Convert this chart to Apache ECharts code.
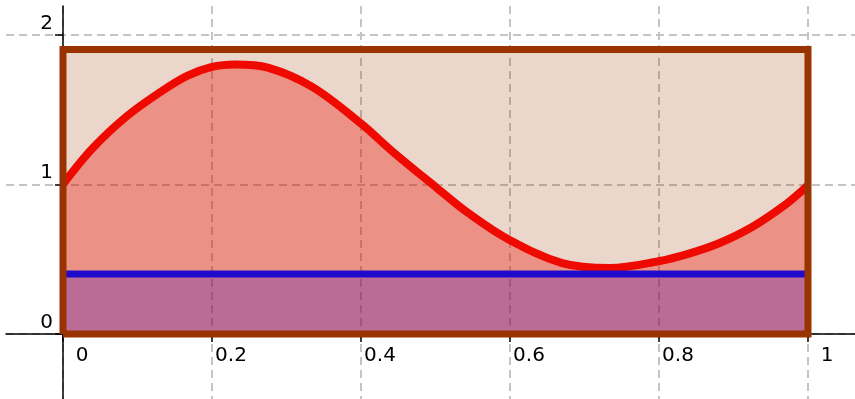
<!DOCTYPE html>
<html>
<head>
<meta charset="utf-8">
<script src="https://cdn.jsdelivr.net/npm/echarts@6/dist/echarts.min.js"></script>
<style>
html,body{margin:0;padding:0;background:#ffffff;}
#chart{width:855px;height:399px;}
</style>
</head>
<body>
<div id="chart"></div>
<script>
// ---- data ----
const xTickValues = [0, 0.2, 0.4, 0.6, 0.8, 1];
const yTickValues = [0, 1, 2];
const curveX = [0, 0.040, 0.086, 0.130, 0.166, 0.200, 0.231, 0.275, 0.334, 0.399, 0.443, 0.502, 0.544, 0.597, 0.670, 0.734, 0.801, 0.838, 0.879, 0.925, 0.969, 0.993, 1.000];
const curveY = [1.00, 1.242, 1.456, 1.614, 1.723, 1.784, 1.800, 1.779, 1.652, 1.410, 1.216, 0.975, 0.808, 0.635, 0.474, 0.441, 0.488, 0.534, 0.603, 0.715, 0.862, 0.962, 0.995];
const levelX = [0, 1];
const levelY = [0.4, 0.4];
const rectX = [0, 1];
const rectY = [0, 1.9];

// ---- build ----
const curveData = curveX.map((x, i) => [x, curveY[i]]);
const levelData = levelX.map((x, i) => [x, levelY[i]]);
const rectTop = [[rectX[0], rectY[1]], [rectX[1], rectY[1]]];
const rectOutline = [
  [rectX[0], rectY[0]], [rectX[0], rectY[1]], [rectX[1], rectY[1]],
  [rectX[1], rectY[0]], [rectX[0], rectY[0]]
];

const FONT = 'DejaVu Sans';
const X_MIN = -0.0765, X_MAX = 1.0631, Y_MIN = -0.4342, Y_MAX = 2.191;
const gridLine = {show: true, lineStyle: {color: '#c4c4c4', width: 2, type: [8, 5]}};
const axisBlack = {color: '#000000', width: 1.5};

const chart = echarts.init(document.getElementById('chart'), null, {renderer: 'canvas'});
chart.setOption({
  animation: false,
  backgroundColor: '#ffffff',
  grid: [
    {left: 6, top: 6, right: 0, bottom: 0, containLabel: false, outerBoundsMode: 'none'},
    {left: 63, top: 6, right: 0, bottom: 65, containLabel: false, outerBoundsMode: 'none'}
  ],
  xAxis: [
    {
      type: 'value', gridIndex: 0, min: X_MIN, max: X_MAX,
      axisLine: {onZero: true, lineStyle: axisBlack},
      axisTick: {show: true, length: 8, inside: false, customValues: xTickValues, lineStyle: axisBlack},
      axisLabel: {show: false},
      splitLine: gridLine
    },
    {
      type: 'value', gridIndex: 1, min: 0, max: X_MAX,
      axisLine: {show: false}, axisTick: {show: false}, splitLine: {show: false},
      axisLabel: {
        show: true, customValues: xTickValues,
        fontFamily: FONT, fontSize: 20, color: '#000000',
        align: 'center', verticalAlign: 'top', margin: 12, padding: [0, 0, 0, 38],
        formatter: v => String(v)
      }
    }
  ],
  yAxis: [
    {
      type: 'value', gridIndex: 0, min: Y_MIN, max: Y_MAX,
      axisLine: {onZero: true, lineStyle: axisBlack},
      axisTick: {show: true, length: 8, inside: false, customValues: yTickValues, lineStyle: axisBlack},
      axisLabel: {show: false},
      splitLine: gridLine
    },
    {
      type: 'value', gridIndex: 1, min: 0, max: Y_MAX,
      axisLine: {show: false}, axisTick: {show: false}, splitLine: {show: false},
      axisLabel: {
        show: true, customValues: yTickValues,
        fontFamily: FONT, fontSize: 20, color: '#000000',
        align: 'right', verticalAlign: 'bottom', margin: 10, padding: [0, 0, 1, 0],
        formatter: v => String(v)
      }
    }
  ],
  series: [
    {
      name: 'rectFill', type: 'line', xAxisIndex: 0, yAxisIndex: 0, data: rectTop, symbol: 'none',
      lineStyle: {width: 0, opacity: 0},
      areaStyle: {color: 'rgba(153,51,0,0.2)', opacity: 1, origin: 'auto'},
      z: 2, silent: true, clip: false
    },
    {
      name: 'curve', type: 'line', xAxisIndex: 0, yAxisIndex: 0, data: curveData, symbol: 'none', smooth: 0.35,
      lineStyle: {color: '#ee0a00', width: 8, cap: 'butt', join: 'round'},
      areaStyle: {color: 'rgba(238,17,0,0.35)', opacity: 1, origin: 'auto'},
      z: 3, silent: true, clip: false
    },
    {
      name: 'level', type: 'line', xAxisIndex: 0, yAxisIndex: 0, data: levelData, symbol: 'none',
      lineStyle: {color: '#200acc', width: 7},
      areaStyle: {color: 'rgba(34,0,204,0.25)', opacity: 1, origin: 'auto'},
      z: 4, silent: true, clip: false
    },
    {
      name: 'rectBorder', type: 'line', xAxisIndex: 0, yAxisIndex: 0, data: rectOutline, symbol: 'none',
      lineStyle: {color: '#993300', width: 7, join: 'miter'},
      z: 5, silent: true, clip: false
    }
  ]
});
</script>
</body>
</html>
